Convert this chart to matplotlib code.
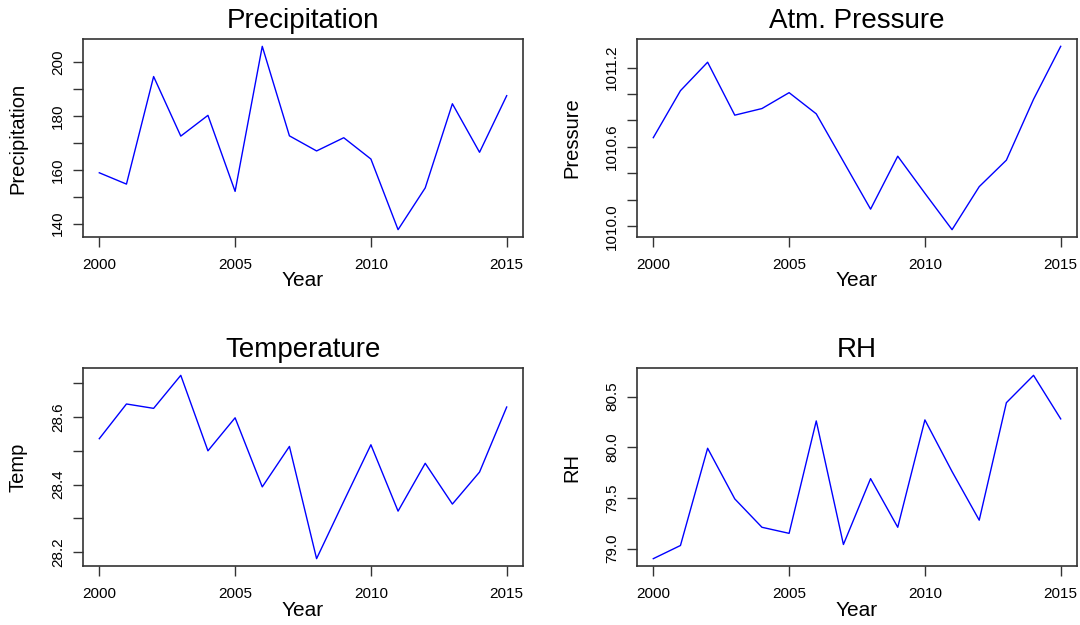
import matplotlib
matplotlib.use("Agg")
import matplotlib.pyplot as plt
import numpy as np

plt.rcParams["font.family"] = ["Liberation Sans", "DejaVu Sans"]

years = list(range(2000, 2016))
precip = [158.9, 154.7, 194.6, 172.5, 180.2, 152.0, 205.8, 172.6,
          167.0, 171.9, 164.0, 137.8, 153.3, 184.5, 166.5, 187.5]
pressure = [1010.67, 1011.025, 1011.24, 1010.84, 1010.89, 1011.01, 1010.85, 1010.49,
            1010.13, 1010.53, 1010.25, 1009.975, 1010.30, 1010.50, 1010.96, 1011.36]
temp = [28.536, 28.639, 28.626, 28.724, 28.500, 28.598, 28.393, 28.513,
        28.180, 28.350, 28.518, 28.321, 28.463, 28.342, 28.437, 28.630]
rh = [78.90, 79.03, 79.99, 79.49, 79.21, 79.15, 80.26, 79.04,
      79.69, 79.21, 80.27, 79.76, 79.28, 80.44, 80.71, 80.28]

x_ticks = [2000, 2005, 2010, 2015]

panels = [
    ("Precipitation", "Precipitation", precip, [140, 150, 160, 170, 180, 190, 200], [140, 160, 180, 200], "%d"),
    ("Atm. Pressure", "Pressure", pressure, [1010.0, 1010.2, 1010.4, 1010.6, 1010.8, 1011.0, 1011.2],
     [1010.0, 1010.6, 1011.2], "%.1f"),
    ("Temperature", "Temp", temp, [28.2, 28.3, 28.4, 28.5, 28.6, 28.7], [28.2, 28.4, 28.6], "%.1f"),
    ("RH", "RH", rh, [79.0, 79.5, 80.0, 80.5], [79.0, 79.5, 80.0, 80.5], "%.1f"),
]

W, H = 1080, 625
boxes = [(83, 39, 523, 237), (637, 39, 1077, 237),
         (83, 368, 523, 566), (637, 368, 1077, 566)]

fig = plt.figure(figsize=(10.8, 6.25), dpi=100)

for (title, ylab, vals, yt, ylabeled, fmt), (x0, y0, x1, y1) in zip(panels, boxes):
    bw, bh = x1 - x0, y1 - y0
    ax = fig.add_axes([x0 / W, 1 - y1 / H, bw / W, bh / H])
    ax.plot(years, vals, color="#0000ff", lw=1.0)
    ax.margins(x=0.04, y=0.04)
    ax.set_xticks(x_ticks)
    ax.set_xticklabels([str(v) for v in x_ticks])
    ax.set_yticks(yt)
    ax.set_yticklabels([(fmt % v) if any(abs(v - l) < 1e-9 for l in ylabeled) else "" for v in yt],
                       rotation=90, va="center")
    ax.tick_params(direction="out", length=7, width=1, colors="#333333", labelcolor="black",
                   labelsize=11)
    ax.tick_params(axis="x", pad=8)
    ax.tick_params(axis="y", pad=6)
    for s in ax.spines.values():
        s.set_linewidth(1.2)
        s.set_color("#333333")
    ax.set_title(title, fontsize=20, pad=8)
    ax.set_xlabel("Year", fontsize=15)
    ax.xaxis.set_label_coords(0.5, -44 / bh)
    ax.xaxis.label.set_va("center")
    ax.set_ylabel(ylab, fontsize=14.5)
    ax.yaxis.set_label_coords(-65 / bw, 0.5)
    ax.yaxis.label.set_va("center")

fig.savefig("out.png", dpi=100)
